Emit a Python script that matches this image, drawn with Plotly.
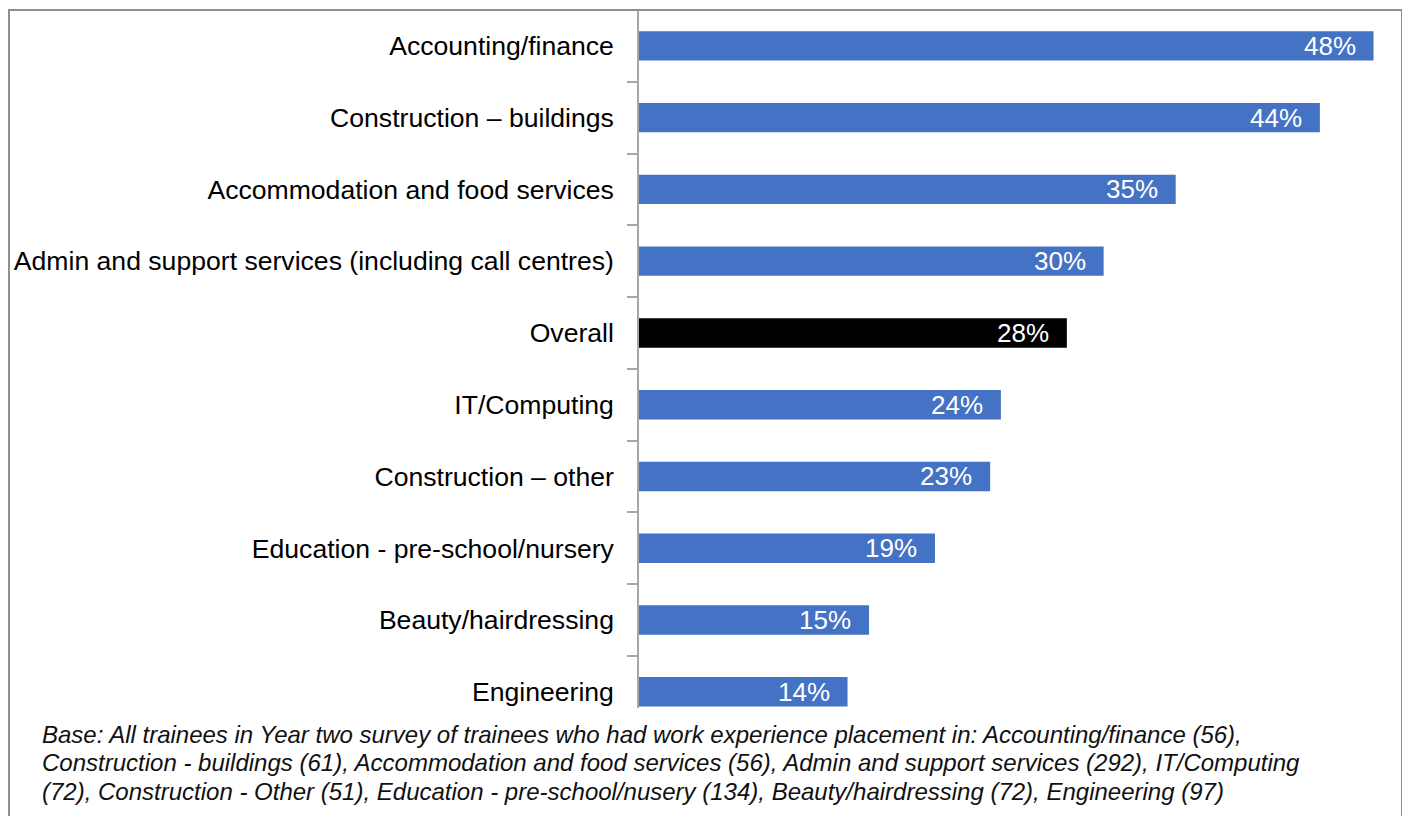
import plotly.graph_objects as go

categories = [
    "Accounting/finance",
    "Construction – buildings",
    "Accommodation and food services",
    "Admin and support services (including call centres)",
    "Overall",
    "IT/Computing",
    "Construction – other",
    "Education - pre-school/nursery",
    "Beauty/hairdressing",
    "Engineering",
]
values = [47.9, 44.4, 35.0, 30.3, 27.9, 23.6, 22.9, 19.3, 15.0, 13.6]
labels = ["48%", "44%", "35%", "30%", "28%", "24%", "23%", "19%", "15%", "14%"]
highlight = "Overall"

footnote_lines = [
    "Base: All trainees in Year two survey of trainees who had work experience placement in: Accounting/finance (56),",
    "Construction - buildings (61), Accommodation and food services (56), Admin and support services (292), IT/Computing",
    "(72), Construction - Other (51), Education - pre-school/nusery (134), Beauty/hairdressing (72), Engineering (97)",
]

colors = ["#000000" if c == highlight else "#4472C4" for c in categories]

fig = go.Figure()
fig.add_trace(go.Bar(
    x=values, y=categories, orientation="h",
    marker=dict(color=colors, line=dict(width=0)),
    width=0.41, hoverinfo="skip",
))

for c, v, t in zip(categories, values, labels):
    fig.add_annotation(x=v, y=c, xref="x", yref="y", text=t, showarrow=False,
                       xanchor="right", yanchor="middle", xshift=-16,
                       font=dict(family="Liberation Sans, Arial", size=26, color="white"))

# page has an 8px body margin; figure coordinates = reference coordinates - 8
OFF = 8
W, H = 1410 - OFF, 816 - OFF
ml, mr, mt, mb = 639 - OFF, 15, 10 - OFF, 108
pw, ph = W - ml - mr, H - mt - mb

def px(x):
    return (x - OFF - ml) / pw

def py(y):
    return (H - mb - (y - OFF)) / ph

for i, line in enumerate(footnote_lines):
    fig.add_annotation(x=px(40), y=py(734 + 28.5 * i), xref="paper", yref="paper", text=line,
                       showarrow=False, xanchor="left", yanchor="middle", align="left",
                       font=dict(family="Liberation Sans, Arial", size=24, color="#111111", style="italic"))

fig.add_shape(type="rect", xref="paper", yref="paper",
              x0=px(9), x1=px(1402), y0=py(840), y1=py(10),
              line=dict(color="#8f8f8f", width=2), fillcolor="rgba(0,0,0,0)", layer="above")

fig.update_layout(
    width=W, height=H,
    margin=dict(l=ml, r=mr, t=mt, b=mb),
    plot_bgcolor="white", paper_bgcolor="white",
    showlegend=False,
    font=dict(family="Liberation Sans, Arial", color="#000000"),
    xaxis=dict(range=[0, 49.3], visible=False, showgrid=False, zeroline=False, fixedrange=True),
    yaxis=dict(
        categoryorder="array", categoryarray=categories[::-1],
        range=[-0.227, 9.5],
        showline=True, linecolor="#a6a6a6", linewidth=1.5,
        ticks="outside", ticklen=10, tickcolor="#a6a6a6", tickwidth=1.5,
        tickson="boundaries", ticklabelstandoff=18,
        tickfont=dict(size=26.6, color="#000000"),
        showgrid=False, zeroline=False, fixedrange=True,
    ),
)

fig.write_html("out.html")
